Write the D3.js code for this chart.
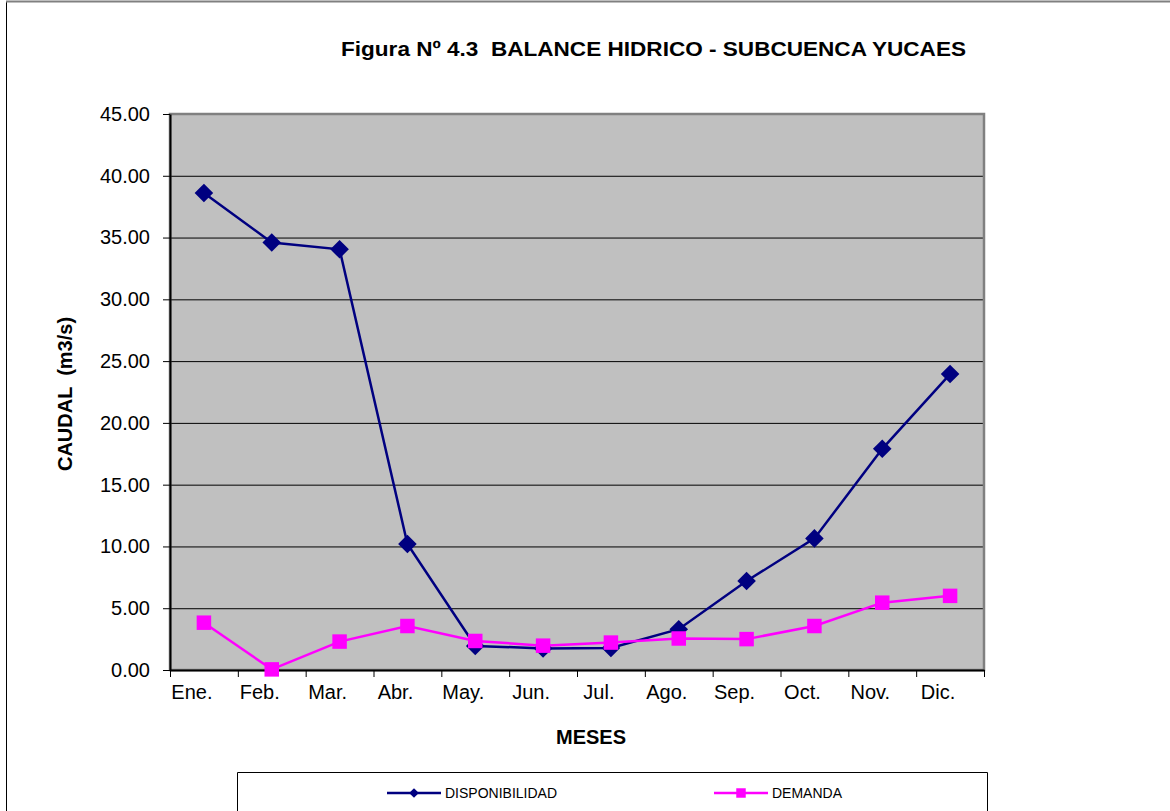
<!DOCTYPE html>
<html>
<head>
<meta charset="utf-8">
<script src="https://cdn.jsdelivr.net/npm/d3@7"></script>
<style>
  body { margin: 0; background: #fff; }
  svg { display: block; font-family: "Liberation Sans", Arial, sans-serif; }
  .grid line { stroke: #000; stroke-width: 1; }
  .grid path { display: none; }
  .axis path, .axis line { stroke: #000; }
  .axis text { font-size: 20px; fill: #000; }
  .bold { font-weight: bold; }
</style>
</head>
<body>
<div id="chart"></div>
<script>
const months = ['Ene.', 'Feb.', 'Mar.', 'Abr.', 'May.', 'Jun.', 'Jul.', 'Ago.', 'Sep.', 'Oct.', 'Nov.', 'Dic.']
const disponibilidad = [38.6, 34.6, 34.05, 10.2, 1.95, 1.75, 1.78, 3.3, 7.2, 10.65, 17.9, 23.95]
const demanda = [3.83, 0.05, 2.3, 3.56, 2.35, 1.97, 2.22, 2.55, 2.5, 3.56, 5.45, 6.0]
const yTicks = [0, 5, 10, 15, 20, 25, 30, 35, 40, 45]

const width = 1170
const height = 811
const margin = { top: 114, right: 186, bottom: 141, left: 170 }
const innerWidth = width - margin.left - margin.right
const innerHeight = height - margin.top - margin.bottom

const svg = d3.select('#chart')
  .append('svg')
  .attr('width', width)
  .attr('height', height)

// Outer chart frame (left and top edges only; the rest runs off the picture)
svg.append('line')
  .attr('x1', 6.5).attr('x2', 6.5).attr('y1', 1).attr('y2', height)
  .attr('stroke', '#000').attr('stroke-width', 1)
svg.append('line')
  .attr('x1', 6).attr('x2', width).attr('y1', 1.5).attr('y2', 1.5)
  .attr('stroke', '#808080').attr('stroke-width', 2)

// Title
svg.append('text')
  .attr('class', 'bold')
  .attr('x', 341).attr('y', 56)
  .attr('font-size', 21)
  .attr('textLength', 625)
  .attr('lengthAdjust', 'spacingAndGlyphs')
  .style('white-space', 'pre')
  .text('Figura Nº 4.3  BALANCE HIDRICO - SUBCUENCA YUCAES')

const g = svg.append('g')
  .attr('transform', `translate(${margin.left}, ${margin.top})`)

// Scales
const xScale = d3.scaleBand().domain(months).range([0, innerWidth]).padding(0)
const xTick = d3.scaleLinear().domain([0, months.length]).range([0, innerWidth])
const yScale = d3.scaleLinear().domain([0, 45]).range([innerHeight, 0])
const cx = d => xScale(d) + xScale.bandwidth() / 2

// Plot background
g.append('rect')
  .attr('width', innerWidth)
  .attr('height', innerHeight)
  .attr('fill', '#c0c0c0')

// Y gridlines
g.append('g')
  .attr('class', 'grid')
  .call(d3.axisLeft(yScale).tickValues(yTicks.slice(1, -1)).tickSize(-innerWidth).tickFormat(''))

// Plot border
g.append('rect')
  .attr('width', innerWidth)
  .attr('height', innerHeight)
  .attr('fill', 'none')
  .attr('stroke', '#808080')
  .attr('stroke-width', 2.5)

// Left axis
g.append('g')
  .attr('class', 'axis')
  .call(d3.axisLeft(yScale).tickValues(yTicks).tickSize(7).tickPadding(13).tickSizeOuter(0)
    .tickFormat(d3.format('.2f')))
  .select('.domain').attr('stroke', '#404040').attr('stroke-width', 2)

// Bottom axis - tick marks at category boundaries
g.append('g')
  .attr('class', 'axis')
  .attr('transform', `translate(0, ${innerHeight})`)
  .call(d3.axisBottom(xTick).ticks(months.length).tickSize(7).tickSizeOuter(0).tickFormat(''))
  .select('.domain').attr('stroke', '#404040').attr('stroke-width', 2)

// Bottom axis - month labels
g.append('g')
  .attr('class', 'axis')
  .attr('transform', `translate(-12, ${innerHeight})`)
  .call(d3.axisBottom(xScale).tickSize(0).tickPadding(15))
  .call(a => a.select('.domain').remove())

// Axis titles
svg.append('text')
  .attr('class', 'bold')
  .attr('font-size', 20)
  .attr('text-anchor', 'middle')
  .attr('x', 591).attr('y', 744)
  .text('MESES')

svg.append('text')
  .attr('class', 'bold')
  .attr('font-size', 20)
  .attr('text-anchor', 'middle')
  .attr('transform', 'translate(72, 394) rotate(-90)')
  .style('white-space', 'pre')
  .text('CAUDAL  (m3/s)')

// Lines
const line = d3.line().x((d, i) => cx(months[i])).y(d => yScale(d))

g.append('path')
  .datum(disponibilidad)
  .attr('fill', 'none')
  .attr('stroke', '#000080')
  .attr('stroke-width', 2.5)
  .attr('d', line)

g.append('path')
  .datum(demanda)
  .attr('fill', 'none')
  .attr('stroke', '#ff00ff')
  .attr('stroke-width', 2.5)
  .attr('d', line)

// Markers
const diamond = d3.symbol().type(d3.symbolDiamond2).size(220)
const square = d3.symbol().type(d3.symbolSquare).size(210)

g.selectAll('.pt-disp')
  .data(disponibilidad)
  .join('path')
  .attr('class', 'pt-disp')
  .attr('d', diamond)
  .attr('fill', '#000080')
  .attr('transform', (d, i) => `translate(${cx(months[i])}, ${yScale(d)})`)

g.selectAll('.pt-dem')
  .data(demanda)
  .join('path')
  .attr('class', 'pt-dem')
  .attr('d', square)
  .attr('fill', '#ff00ff')
  .attr('transform', (d, i) => `translate(${cx(months[i])}, ${yScale(d)})`)

// Legend box (bottom edge falls outside the picture)
svg.append('path')
  .attr('d', `M237.5,${height}V772.5H987.5V${height}`)
  .attr('fill', 'none')
  .attr('stroke', '#000').attr('stroke-width', 1)

const legendItems = [
  { name: 'DISPONIBILIDAD', color: '#000080', symbol: d3.symbol().type(d3.symbolDiamond2).size(60), x: 387 },
  { name: 'DEMANDA', color: '#ff00ff', symbol: d3.symbol().type(d3.symbolSquare).size(90), x: 714 }
]
legendItems.forEach(item => {
  const li = svg.append('g').attr('transform', `translate(${item.x}, 793)`)
  li.append('line').attr('x1', 0).attr('x2', 54).attr('stroke', item.color).attr('stroke-width', 2.5)
  li.append('path').attr('d', item.symbol).attr('fill', item.color).attr('transform', 'translate(27, 0)')
  li.append('text').attr('x', 58).attr('dy', '0.35em').attr('font-size', 14).text(item.name)
})
</script>
</body>
</html>
